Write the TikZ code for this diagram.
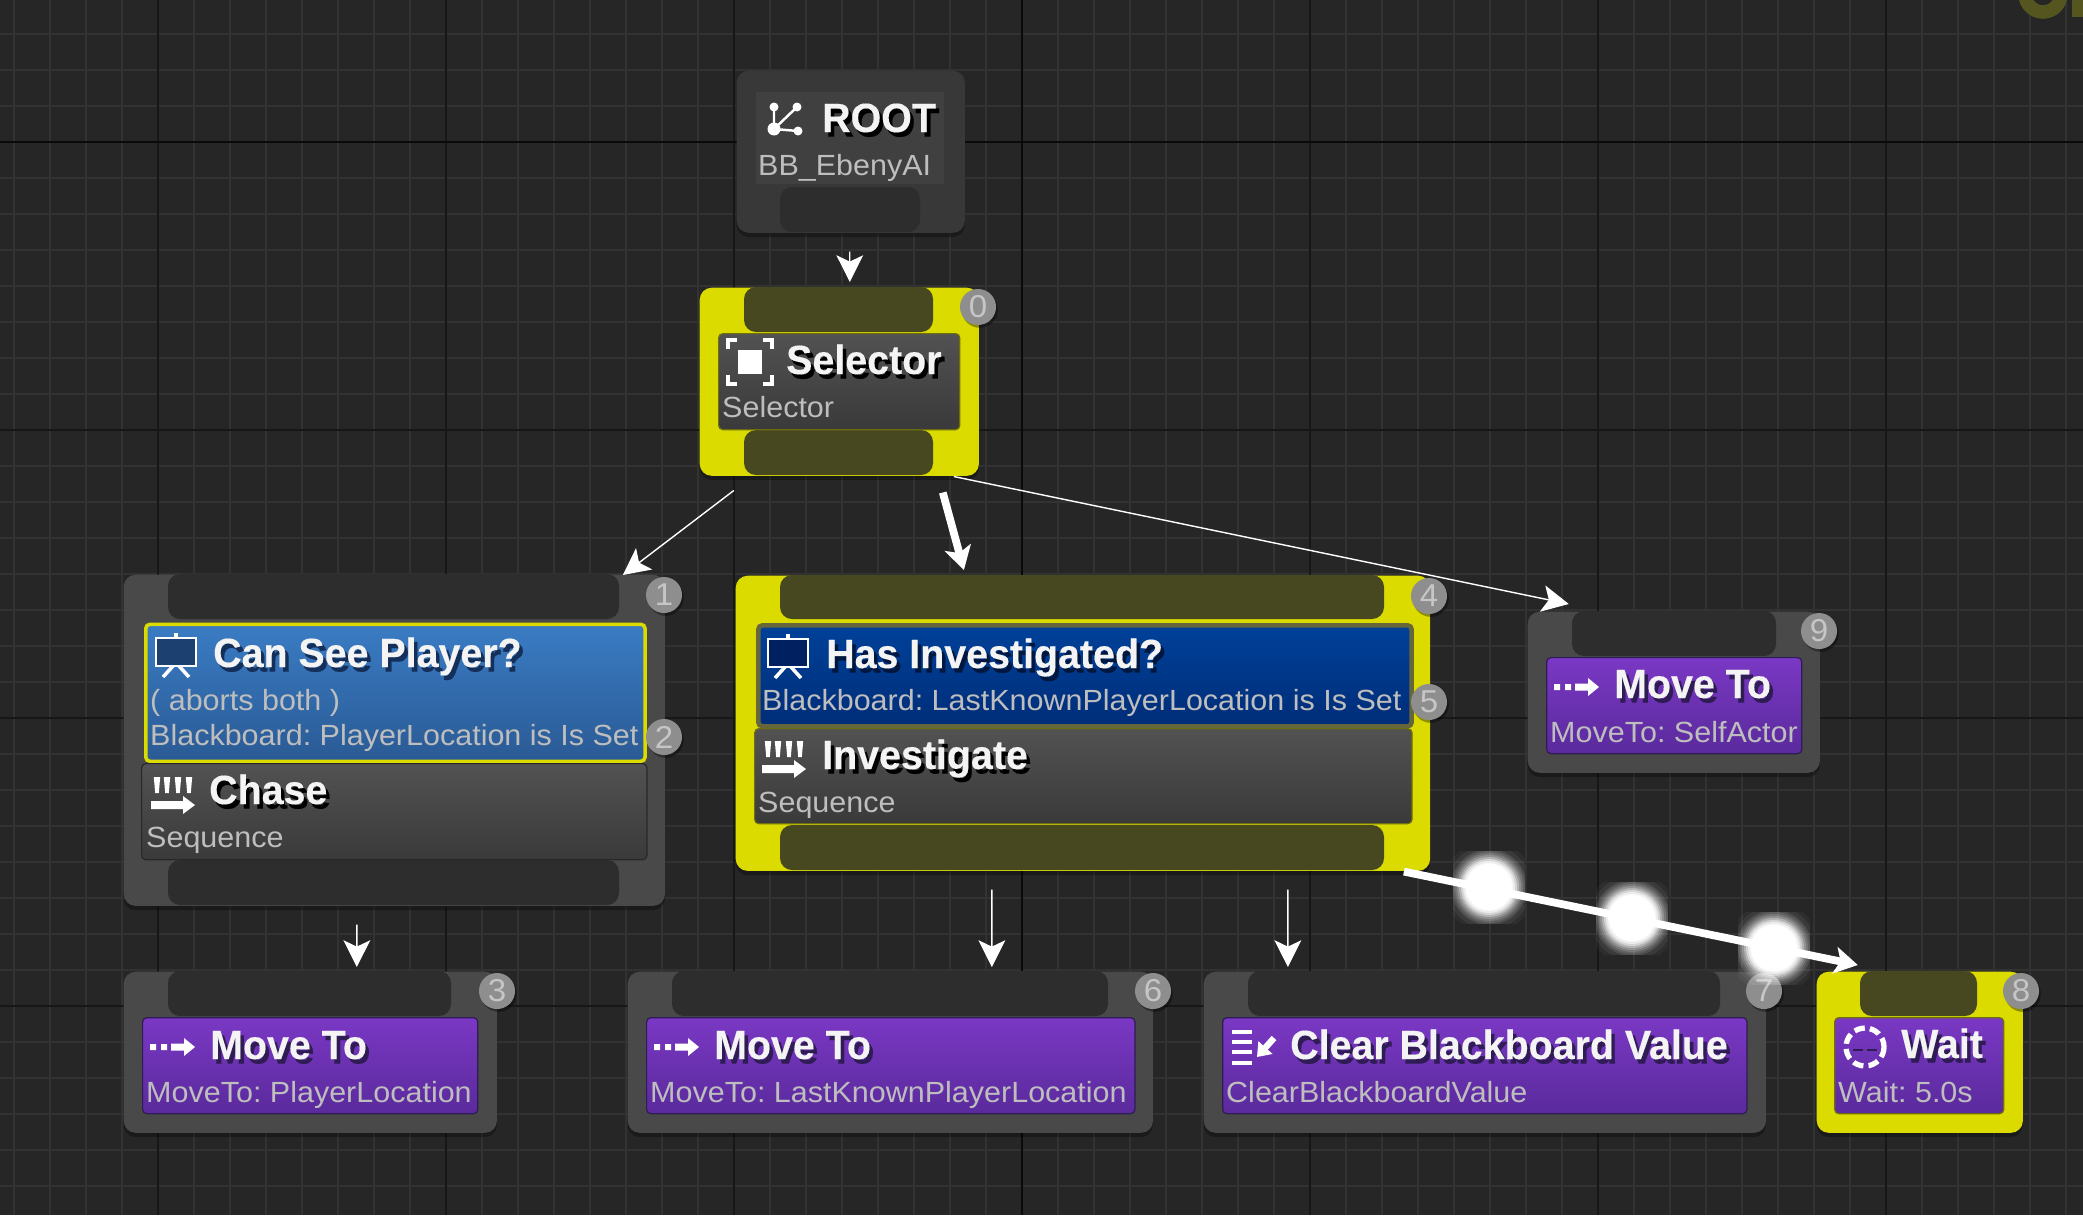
\documentclass[tikz,border=0pt]{standalone}
\usepackage{fontspec}
\setmainfont{Liberation Sans}[FakeStretch=1.045]
\newfontfamily\titlefont{Liberation Sans}[FakeStretch=0.965,FakeBold=0.25]
\usetikzlibrary{arrows.meta,shadows}

\definecolor{gridbg}{HTML}{262626}
\definecolor{gridminor}{HTML}{323232}
\definecolor{gridmajor}{HTML}{171717}
\definecolor{gridzero}{HTML}{0A0A0A}
\definecolor{panelgray}{HTML}{494949}
\definecolor{rootgray}{HTML}{383838}
\definecolor{rootinner}{HTML}{404040}
\definecolor{slotgray}{HTML}{2D2D2D}
\definecolor{hotyellow}{HTML}{DBDB00}
\definecolor{hotslot}{HTML}{474720}
\definecolor{hotedge}{HTML}{6E6E10}
\definecolor{hotband}{HTML}{66663A}
\definecolor{badgegray}{HTML}{8E8E8E}
\definecolor{badgetext}{HTML}{C6C6C6}
\definecolor{subgray}{HTML}{BEBEBE}
\definecolor{titlewhite}{HTML}{F4F4F4}
\definecolor{ghostolive}{HTML}{55551F}
\definecolor{cardtop}{HTML}{525252}
\definecolor{cardbottom}{HTML}{3A3A3A}
\definecolor{cardedge}{HTML}{282828}
\definecolor{purpleA}{HTML}{7A38C4}
\definecolor{purpleB}{HTML}{5A2A9C}
\definecolor{purpleC}{HTML}{2F1C55}
\definecolor{seeA}{HTML}{3A7CC4}
\definecolor{seeB}{HTML}{2A5A94}
\definecolor{seeC}{HTML}{1C4070}
\definecolor{seeD}{HTML}{14305A}
\definecolor{hasA}{HTML}{004199}
\definecolor{hasB}{HTML}{002D78}
\definecolor{hasC}{HTML}{002060}
\definecolor{hasD}{HTML}{001840}

\newcommand{\shadowed}[2]{\rlap{\raisebox{-1.3pt}{\kern1pt\color{#1}#2}}#2}

\tikzset{
    panel/.style={anchor=north west, inner sep=0, rounded corners=3.4pt, fill=panelgray,
        drop shadow={shadow xshift=0pt, shadow yshift=-1.2pt, opacity=.3, fill=black}},
    hotpanel/.style={panel, fill=hotyellow},
    slot/.style={fill=slotgray, rounded corners=3.4pt},
    hot/.style={fill=hotslot, rounded corners=3.4pt},
    card/.style={anchor=north west, inner sep=0, rounded corners=1.2pt, line width=.35pt},
    graycard/.style={card, top color=cardtop, bottom color=cardbottom, draw=cardedge},
    purplecard/.style={card, top color=purpleA, bottom color=purpleB, draw=purpleC},
    title/.style={anchor=base west, inner sep=0, xshift=-.015cm, text=titlewhite,
        font=\titlefont\fontsize{11.6}{13}\selectfont\bfseries},
    sub/.style={anchor=base west, inner sep=0, xshift=-.015cm, text=subgray,
        font=\frenchspacing\fontsize{8.3}{10}\selectfont},
    badge/.style={circle, inner sep=0, minimum size=.36cm, fill=badgegray, text=badgetext,
        font=\fontsize{9}{10}\selectfont, drop shadow={shadow xshift=.5pt, shadow yshift=-.8pt, opacity=.35, fill=black}},
    link/.style={white, line width=.4pt, -{Stealth[length=7.6pt, width=7.6pt, inset=1.8pt]}},
    hotlink/.style={white, line width=2.2pt, -{Stealth[length=6.6pt, width=7.6pt, inset=1.6pt]}},
    % icons, origin at their left or centre
    pics/treeicon/.style={code={
        \draw[white, line width=.7pt] (0,0) -- (0,-22) (0,0) -- (23,-22) (0,0) -- (24,2);
        \fill[white] (0,0) circle (6.5) (0,-22) circle (4.5) (23,-22) circle (4.5) (24,2) circle (4.5);
    }},
    pics/selicon/.style={code={
        \fill[white] (-12,-12) rectangle (12,12);
        \draw[white, line width=.9pt] (-22,-13) -- (-22,-22) -- (-13,-22) (13,-22) -- (22,-22) -- (22,-13)
            (22,13) -- (22,22) -- (13,22) (-13,22) -- (-22,22) -- (-22,13);
    }},
    pics/boardicon/.style={code={
        \fill[white] (-2,-19) rectangle (2,-14);
        \draw[white, fill=#1, line width=.8pt] (-20,-14) rectangle (20,14);
        \draw[white, line width=1pt] (-3,14) -- (-13,25) (3,14) -- (13,25);
    }},
    pics/seqicon/.style={code={
        \foreach \x in {6,16,27,38} {
            \fill[white] (\x-3.2,-28) -- (\x+3.2,-28) -- (\x+1.8,-12) -- (\x-1.8,-12) -- cycle;
        }
        \fill[white] (0,-4) -- (32,-4) -- (32,-9) -- (44,0) -- (32,9) -- (32,4) -- (0,4) -- cycle;
    }},
    pics/moveicon/.style={code={
        \fill[white] (2,-3) rectangle (8,3) (13,-3) rectangle (19,3);
        \fill[white] (23,-3.5) -- (36,-3.5) -- (36,-9) -- (47,0) -- (36,9) -- (36,3.5) -- (23,3.5) -- cycle;
    }},
    pics/clearicon/.style={code={
        \foreach \y in {0,10,20,31} {
            \draw[white, line width=1.2pt] (0,\y) -- (20,\y);
        }
        \draw[white, line width=1.8pt, -{Stealth[length=3.6pt, width=5.2pt, inset=0pt]}] (42,6) -- (25,25);
    }},
    pics/waiticon/.style={code={
        \draw[white, line width=1.5pt, dash pattern=on 3pt off 1.47pt] (0,0) circle (19);
        \draw[purpleC, line width=.5pt] (-12,3) -- (-2,3) (2,3) -- (12,3);
    }},
}

\begin{document}
\begin{tikzpicture}[x=0.01cm, y=-0.01cm]
    \useasboundingbox (0,0) rectangle (2083,1215);
    \clip (0,0) rectangle (2083,1215);
    \fill[gridbg] (0,0) rectangle (2083,1215);

    % graph grid
    \foreach \x in {14,50,...,2083} {
        \draw[gridminor, line width=.4pt] (\x,0) -- (\x,1215);
    }
    \foreach \y in {34,70,...,1215} {
        \draw[gridminor, line width=.4pt] (0,\y) -- (2083,\y);
    }
    \foreach \x in {158,446,734,1310,1598,1886} {
        \draw[gridmajor, line width=.4pt] (\x,0) -- (\x,1215);
    }
    \foreach \y in {430,718,1006} {
        \draw[gridmajor, line width=.4pt] (0,\y) -- (2083,\y);
    }
    \draw[gridzero, line width=.45pt] (1022,0) -- (1022,1215) (0,142) -- (2083,142);

    % piece of a big letter, cut by the top edge
    \draw[ghostolive, line width=3.84pt] (2025,-20) -- (2025,-6) arc (180:0:18) -- (2061,-20);
    \fill[ghostolive] (2072,0) rectangle (2083,17);

    % root
    \node[panel, fill=rootgray, minimum width=2.28cm, minimum height=1.62cm] (rootpanel) at (736,70) {};
    \fill[rootinner] (756,92) rectangle (944,184);
    \fill[slot] (780,187) rectangle (920,232);
    \pic at (774,129) {treeicon};
    \node[title] (roottitle) at (823,132) {\shadowed{black}{ROOT}};
    \node[sub] (rootsub) at (759,175) {BB\_EbenyAI};

    % selector
    \node[hotpanel, minimum width=2.79cm, minimum height=1.88cm] (selpanel) at (699,287) {};
    \fill[hot] (744,287) rectangle (933,332);
    \fill[hot] (744,430) rectangle (933,475);
    \node[graycard, draw=hotedge, minimum width=2.41cm, minimum height=.96cm] (selcard) at (718,333) {};
    \pic at (750,362) {selicon};
    \node[title] (seltitle) at (787,374) {\shadowed{black}{Selector}};
    \node[sub] (selsub) at (723,417) {Selector};
    \node[badge] (bzero) at (978,307) {0};

    % chase branch
    \node[panel, minimum width=5.41cm, minimum height=3.31cm] (chasepanel) at (123,574) {};
    \fill[slot] (168,574) rectangle (619,619);
    \fill[slot] (168,860) rectangle (619,905);
    \node[card, line width=1pt, draw=hotyellow, top color=seeA, bottom color=seeB,
        minimum width=4.99cm, minimum height=1.37cm] (seecard) at (144,622.5) {};
    \pic at (176,652) {boardicon={seeC}};
    \node[title] (seetitle) at (214,667) {\shadowed{seeD}{Can See Player?}};
    \node[sub] (seeabort) at (151,710) {( aborts both )};
    \node[sub] (seesub) at (151,745) {Blackboard: PlayerLocation is Is Set};
    \node[graycard, minimum width=5.05cm, minimum height=.96cm] (chasecard) at (141,763) {};
    \pic at (151,805) {seqicon};
    \node[title] (chasetitle) at (210,804) {\shadowed{black}{Chase}};
    \node[sub] (chasesub) at (147,847) {Sequence};
    \node[badge] (bone) at (664,595) {1};
    \node[badge] (btwo) at (664,737) {2};

    % investigate branch
    \node[hotpanel, minimum width=6.94cm, minimum height=2.95cm] (invpanel) at (735,575) {};
    \fill[hot] (780,575) rectangle (1384,619);
    \fill[hot] (780,825) rectangle (1384,870);
    \node[card, line width=1.3pt, draw=hotband, top color=hasA, bottom color=hasB,
        minimum width=6.53cm, minimum height=1.01cm] (hascard) at (756,623) {};
    \pic at (788,653) {boardicon={hasC}};
    \node[title] (hastitle) at (827,668) {\shadowed{hasD}{Has Investigated?}};
    \node[sub] (hassub) at (763,710) {Blackboard: LastKnownPlayerLocation is Is Set};
    \node[graycard, draw=hotedge, minimum width=6.57cm, minimum height=.95cm] (invcard) at (754,728) {};
    \pic at (762,769) {seqicon};
    \node[title] (invtitle) at (823,769) {\shadowed{black}{Investigate}};
    \node[sub] (invsub) at (759,812) {Sequence};
    \node[badge] (bfour) at (1429,596) {4};
    \node[badge] (bfive) at (1429,702) {5};

    % move to, self
    \node[panel, minimum width=2.92cm, minimum height=1.61cm] (selfpanel) at (1527,611) {};
    \fill[slot] (1572,611) rectangle (1776,656);
    \node[purplecard, minimum width=2.55cm, minimum height=.96cm] (selfcard) at (1546,657) {};
    \pic at (1552,687) {moveicon};
    \node[title] (selftitle) at (1615,698) {\shadowed{purpleC}{Move To}};
    \node[sub] (selfsub) at (1551,742) {MoveTo: SelfActor};
    \node[badge] (bnine) at (1819,631) {9};

    % move to, player
    \node[panel, minimum width=3.73cm, minimum height=1.61cm] (playerpanel) at (123,971) {};
    \fill[slot] (168,971) rectangle (451,1016);
    \node[purplecard, minimum width=3.35cm, minimum height=.96cm] (playercard) at (142,1017) {};
    \pic at (148,1047) {moveicon};
    \node[title] (playertitle) at (211,1059) {\shadowed{purpleC}{Move To}};
    \node[sub] (playersub) at (147,1102) {MoveTo: PlayerLocation};
    \node[badge] (bthree) at (497,991) {3};

    % move to, last known
    \node[panel, minimum width=5.25cm, minimum height=1.61cm] (lastpanel) at (627,971) {};
    \fill[slot] (672,971) rectangle (1108,1016);
    \node[purplecard, minimum width=4.88cm, minimum height=.96cm] (lastcard) at (646,1017) {};
    \pic at (652,1047) {moveicon};
    \node[title] (lasttitle) at (715,1059) {\shadowed{purpleC}{Move To}};
    \node[sub] (lastsub) at (651,1102) {MoveTo: LastKnownPlayerLocation};
    \node[badge] (bsix) at (1153,991) {6};

    % clear value
    \node[panel, minimum width=5.62cm, minimum height=1.61cm] (clearpanel) at (1203,971) {};
    \fill[slot] (1248,971) rectangle (1720,1016);
    \node[purplecard, minimum width=5.24cm, minimum height=.96cm] (clearcard) at (1222,1017) {};
    \pic at (1232,1032) {clearicon};
    \node[title] (cleartitle) at (1291,1059) {\shadowed{purpleC}{Clear Blackboard Value}};
    \node[sub] (clearsub) at (1227,1102) {ClearBlackboardValue};
    \node[badge] (bseven) at (1764,991) {7};

    % wait
    \node[hotpanel, minimum width=2.06cm, minimum height=1.61cm] (waitpanel) at (1816,971) {};
    \fill[hot] (1860,971) rectangle (1977,1016);
    \node[purplecard, draw=hotedge, minimum width=1.69cm, minimum height=.96cm] (waitcard) at (1834,1017) {};
    \pic at (1865,1047) {waiticon};
    \node[title] (waittitle) at (1902,1058) {\shadowed{purpleC}{Wait}};
    \node[sub] (waitsub) at (1839,1102) {Wait: 5.0s};
    \node[badge] (beight) at (2021,991) {8};

    % connectors
    \draw[link] ([shift={(-1,18)}]rootpanel.south) -- ([shift={(10.5,-5)}]selpanel.north);
    \draw[link] ([shift={(-105.5,14)}]selpanel.south) -- ([shift={(228.5,1)}]chasepanel.north);
    \draw[hotlink] ([shift={(103.5,16)}]selpanel.south) -- ([shift={(-119,-5)}]invpanel.north);
    \draw[link] ([shift={(114.5,0)}]selpanel.south) -- ([shift={(-105,-7)}]selfpanel.north);
    \draw[link] ([shift={(-37.5,18)}]chasepanel.south) -- ([shift={(46.5,-4)}]playerpanel.north);
    \draw[link] ([shift={(-91,18)}]invpanel.south) -- ([shift={(101.5,-4)}]lastpanel.north);
    \draw[link] ([shift={(205,18)}]invpanel.south) -- ([shift={(-197,-4)}]clearpanel.north);
    \draw[hotlink] ([shift={(321,0)}]invpanel.south) -- ([shift={(-62,-6)}]waitpanel.north);

    % glow on the active connector
    \coordinate (sparkA) at (1489,887);
    \coordinate (sparkB) at (1632,918);
    \coordinate (sparkC) at (1774,948);
    \foreach \c in {sparkA,sparkB,sparkC} {
        \begin{scope}
            \clip (\c) +(-36,-36) rectangle +(36,36);
            \foreach \r/\o in {46/.04,42/.06,38/.1,36/.1,34/.15,32/.2,30/.3,28/.45,26/.6,24/.7} {
                \fill[white, opacity=\o] (\c) circle (\r);
            }
            \fill[white] (\c) circle (23);
        \end{scope}
    }
\end{tikzpicture}
\end{document}
